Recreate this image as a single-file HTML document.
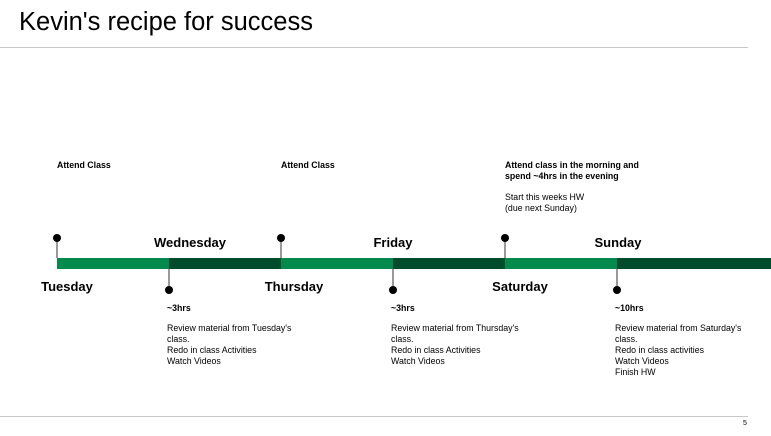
<!DOCTYPE html>
<html><head><meta charset="utf-8"><style>
body{margin:0;width:771px;height:436px;background:#fff;font-family:"Liberation Sans",Arial,sans-serif;position:relative;overflow:hidden;color:#000}
.a{position:absolute}
.t{font-size:8.8px;line-height:11px}
.b{font-weight:bold}
.day{font-size:13px;font-weight:bold;position:absolute;transform:translateX(-50%);white-space:nowrap}
</style></head><body>
<div class="a" style="left:19px;top:8px;font-size:25.5px;">Kevin's recipe for success</div>
<div class="a" style="left:0;top:47px;width:748px;height:1px;background:#c8c8c8"></div>
<svg class="a" style="left:0;top:0" width="771" height="436">
<g id="g"></g>
</svg>
<div class="day" style="left:67px;top:279px">Tuesday</div>
<div class="day" style="left:190px;top:235px">Wednesday</div>
<div class="day" style="left:294px;top:279px">Thursday</div>
<div class="day" style="left:393px;top:235px">Friday</div>
<div class="day" style="left:520px;top:279px">Saturday</div>
<div class="day" style="left:618px;top:235px">Sunday</div>
<div class="a t b" style="left:57px;top:160px">Attend Class</div>
<div class="a t b" style="left:281px;top:160px">Attend Class</div>
<div class="a t" style="left:505px;top:160px"><b>Attend class in the morning and<br>spend ~4hrs in the evening</b><div style="height:10px"></div>Start this weeks HW<br>(due next Sunday)</div>
<div class="a t" style="left:167px;top:303px"><b>~3hrs</b><div style="height:9px"></div>Review material from Tuesday's<br>class.<br>Redo in class Activities<br>Watch Videos</div>
<div class="a t" style="left:391px;top:303px"><b>~3hrs</b><div style="height:9px"></div>Review material from Thursday's<br>class.<br>Redo in class Activities<br>Watch Videos</div>
<div class="a t" style="left:615px;top:303px"><b>~10hrs</b><div style="height:9px"></div>Review material from Saturday's<br>class.<br>Redo in class activities<br>Watch Videos<br>Finish HW</div>
<div class="a" style="left:0;top:416px;width:748px;height:1px;background:#c8c8c8"></div>
<div class="a" style="left:743px;top:420px;font-size:7px">5</div>
<script>
const days=["Tuesday","Wednesday","Thursday","Friday","Saturday","Sunday"];
const starts=[57,169,281,393,505,617];
const g=document.getElementById('g');const ns='http://www.w3.org/2000/svg';
days.forEach((d,i)=>{
 const x=starts[i],end=i<5?starts[i+1]:771;
 const r=document.createElementNS(ns,'rect');
 
 
 r.setAttribute('x',x);r.setAttribute('y',258);r.setAttribute('width',end-x);r.setAttribute('height',11);
 r.setAttribute('fill',i%2?'#014d2b':'#038a4c');g.appendChild(r);
 const top=i%2===0,cy=top?238:290;
 const l=document.createElementNS(ns,'line');
 
 
 l.setAttribute('x1',x);l.setAttribute('x2',x);l.setAttribute('y1',cy);l.setAttribute('y2',top?258:269);
 l.setAttribute('stroke','#333');l.setAttribute('stroke-width','1');g.appendChild(l);
 const c=document.createElementNS(ns,'circle');
 
 
 c.setAttribute('cx',x);c.setAttribute('cy',cy);c.setAttribute('r',4);c.setAttribute('fill','#000');g.appendChild(c);
});
</script>
</body></html>
